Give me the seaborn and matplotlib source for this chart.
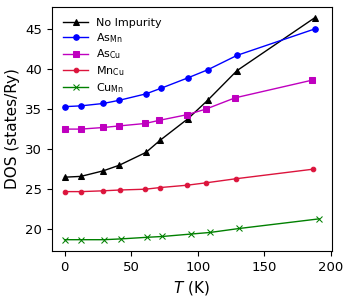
import numpy as np
import pandas as pd
import seaborn as sns
import matplotlib
matplotlib.use('Agg')
import matplotlib.pyplot as plt

# temperatures (K) and DOS (states/Ry)
t_none = [0, 12.3, 29.2, 41.2, 61.2, 71.7, 92.7, 107.5, 129.5, 187.9]
dos_none = [26.5, 26.6, 27.3, 28.0, 29.6, 31.1, 33.8, 36.1, 39.8, 46.4]

t_asmn = [0, 12.3, 29.2, 41.2, 61.2, 72.5, 92.7, 107.5, 129.5, 187.9]
dos_asmn = [35.3, 35.4, 35.7, 36.1, 36.9, 37.6, 38.9, 39.9, 41.7, 45.0]

t_ascu = [0, 12.3, 29.2, 41.2, 60.5, 71.3, 92.1, 106.2, 128.0, 185.7]
dos_ascu = [32.5, 32.5, 32.7, 32.9, 33.2, 33.6, 34.3, 35.0, 36.4, 38.6]

t_mncu = [0, 12.6, 29.1, 41.4, 60.7, 71.4, 92.1, 106.4, 128.4, 186.7]
dos_mncu = [24.7, 24.7, 24.8, 24.9, 25.0, 25.2, 25.5, 25.8, 26.3, 27.5]

t_cumn = [0, 12.6, 29.6, 42.4, 62.0, 73.3, 94.6, 109.1, 131.2, 191.1]
dos_cumn = [18.7, 18.7, 18.7, 18.8, 19.0, 19.1, 19.4, 19.6, 20.1, 21.3]

series = [
    ('No Impurity', t_none, dos_none, 'black', '^', 4),
    (r'As$_{\rm Mn}$', t_asmn, dos_asmn, 'blue', 'o', 4),
    (r'As$_{\rm Cu}$', t_ascu, dos_ascu, 'm', 's', 4),
    (r'Mn$_{\rm Cu}$', t_mncu, dos_mncu, 'crimson', 'o', 3.3),
    (r'Cu$_{\rm Mn}$', t_cumn, dos_cumn, 'green', 'x', 3.8),
]

fig, ax = plt.subplots(figsize=(3.5, 3.0), dpi=100)
fig.subplots_adjust(left=0.148, right=0.948, bottom=0.164, top=0.978)

for name, t, d, c, m, ms in series:
    df = pd.DataFrame({'T': t, 'DOS': d})
    sns.lineplot(data=df, x='T', y='DOS', ax=ax, color=c, marker=m,
                 markersize=ms, markeredgecolor=c, linewidth=1, label=name,
                 sort=False)

ax.set_xlabel('$T$ (K)', fontsize=11)
ax.set_ylabel('DOS (states/Ry)', fontsize=11)
ax.set_xticks([0, 50, 100, 150, 200])
ax.set_yticks([20, 25, 30, 35, 40, 45])
ax.tick_params(labelsize=9.5)
ax.legend(loc='upper left', frameon=False, fontsize=8, handlelength=2.2,
          handletextpad=0.7, borderaxespad=0.65, labelspacing=0.25)

plt.savefig('out.png', dpi=100)
